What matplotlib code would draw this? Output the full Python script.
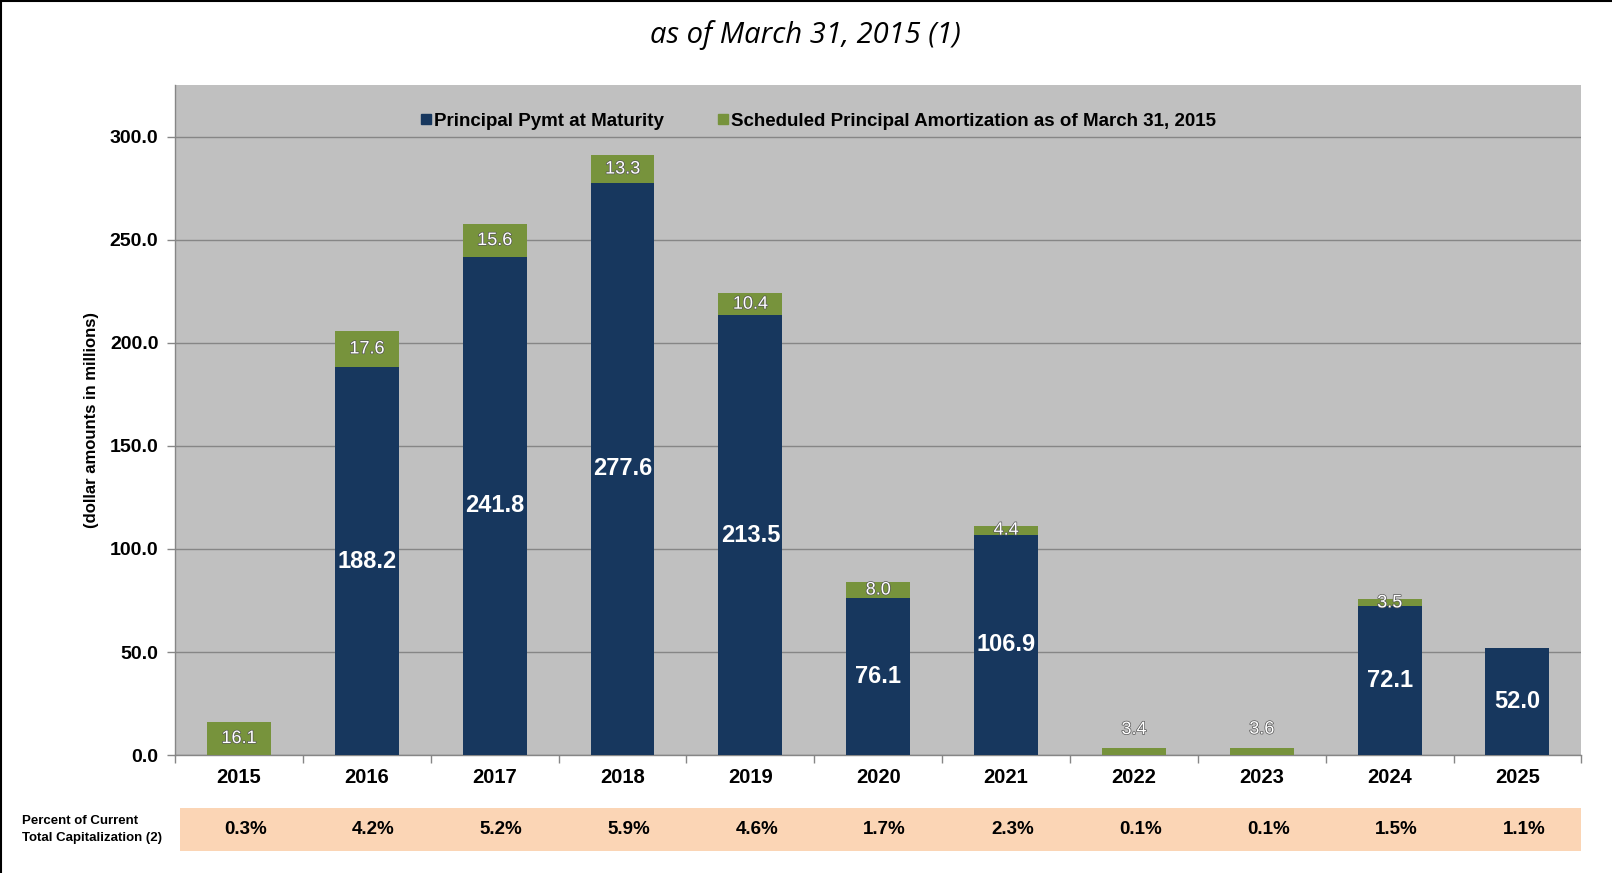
import matplotlib
matplotlib.use("Agg")
import matplotlib.pyplot as plt
import matplotlib.patheffects as pe
from matplotlib.patches import Rectangle
from matplotlib.lines import Line2D
from matplotlib.transforms import blended_transform_factory
import numpy as np

years = ["2015", "2016", "2017", "2018", "2019", "2020", "2021", "2022", "2023", "2024", "2025"]
maturity = [0.0, 188.2, 241.8, 277.6, 213.5, 76.1, 106.9, 0.0, 0.0, 72.1, 52.0]
amortization = [16.1, 17.6, 15.6, 13.3, 10.4, 8.0, 4.4, 3.4, 3.6, 3.5, 0.0]
pct_cap = ["0.3%", "4.2%", "5.2%", "5.9%", "4.6%", "1.7%", "2.3%", "0.1%", "0.1%", "1.5%", "1.1%"]
yticks = [0, 50, 100, 150, 200, 250, 300]

NAVY = "#17375E"
GREEN = "#77933C"
PEACH = "#FBD5B5"
BG = "#C0C0C0"

SANS = ["Liberation Sans", "DejaVu Sans"]

fig = plt.figure(figsize=(16.12, 8.73), dpi=100)
ax = fig.add_axes([0.1086, 0.135, 0.8724, 0.7676])
ax.set_facecolor(BG)

x = np.arange(len(years))
w = 0.5
ax.bar(x, maturity, w, color=NAVY, zorder=3)
ax.bar(x, amortization, w, bottom=maturity, color=GREEN, zorder=3)

ax.set_xlim(-0.5, len(years) - 0.5)
ax.set_ylim(0, 325)
ax.set_yticks(yticks)
ax.set_yticklabels([f"{v:.1f}" for v in yticks], fontfamily=SANS, fontweight="bold", fontsize=14)
ax.yaxis.grid(True, color="#868686", lw=1, zorder=1)
ax.set_axisbelow(True)

ax.set_xticks(x)
ax.set_xticklabels(years, fontfamily=SANS, fontweight="bold", fontsize=14.5)
ax.tick_params(axis="x", which="major", length=0, pad=9)
ax.set_xticks(np.arange(-0.5, len(years), 1.0), minor=True)
ax.tick_params(axis="x", which="minor", length=6, color="#868686", width=1)
ax.tick_params(axis="y", length=6, color="#868686", width=1, pad=6)

for s in ["top", "right"]:
    ax.spines[s].set_visible(False)
for s in ["left", "bottom"]:
    ax.spines[s].set_color("#868686")
    ax.spines[s].set_linewidth(1)

ax.set_ylabel("(dollar amounts in millions)", fontfamily=SANS, fontweight="bold", fontsize=12, labelpad=8)

# value labels
for i in range(len(years)):
    m = maturity[i]
    a = amortization[i]
    if m > 0:
        ax.text(x[i], m / 2, f"{m:.1f}", ha="center", va="center", color="white",
                fontfamily=SANS, fontweight="bold", fontsize=17, zorder=5)
    if a > 0:
        if m == 0 and a < 5:
            yv = a + 9
        else:
            yv = m + a / 2
        ax.text(x[i], yv, f"{a:.1f}", ha="center", va="center", color="white",
                fontfamily=SANS, fontsize=13, zorder=5,
                path_effects=[pe.withStroke(linewidth=1.0, foreground="#555555")])

# legend
handles = [Line2D([], [], marker="s", ls="", color=NAVY, markersize=7),
           Line2D([], [], marker="s", ls="", color=GREEN, markersize=7)]
leg = ax.legend(handles, ["Principal Pymt at Maturity", "Scheduled Principal Amortization as of March 31, 2015"],
                loc="center", bbox_to_anchor=(0.457, 0.946), ncol=2, frameon=False,
                handletextpad=0.1, columnspacing=2.8, handlelength=0.7, borderpad=0,
                prop={"family": SANS, "weight": "bold", "size": 13.5})

# title
fig.text(0.4995, 0.960, "as of March 31, 2015 (1)", ha="center", va="center",
         fontfamily=["Open Sans", "DejaVu Sans"], style="italic", fontsize=21)

# bottom table band
band_bottom = 1 - 851 / 873
band_top = 1 - 808 / 873
trans = blended_transform_factory(ax.transData, fig.transFigure)
fig.patches.append(Rectangle((-0.46, band_bottom), len(years) - 0.04, band_top - band_bottom,
                             transform=trans, facecolor=PEACH, edgecolor="none", zorder=0))
ymid = (band_bottom + band_top) / 2
for i, p in enumerate(pct_cap):
    fig.text(x[i] + 0.05, ymid, p, transform=trans, ha="center", va="center",
             fontfamily=SANS, fontweight="bold", fontsize=13.5)
fig.text(22 / 1612, ymid, "Percent of Current\nTotal Capitalization (2)", ha="left", va="center",
         fontfamily=SANS, fontweight="bold", fontsize=9.5, linespacing=1.55)

# frame lines top and left
fig.add_artist(Line2D([0, 1], [0.999, 0.999], transform=fig.transFigure, color="black", lw=1.5))
fig.add_artist(Line2D([0.0008, 0.0008], [0, 1], transform=fig.transFigure, color="black", lw=1.5))

fig.savefig("out.png", dpi=100, facecolor="white")
